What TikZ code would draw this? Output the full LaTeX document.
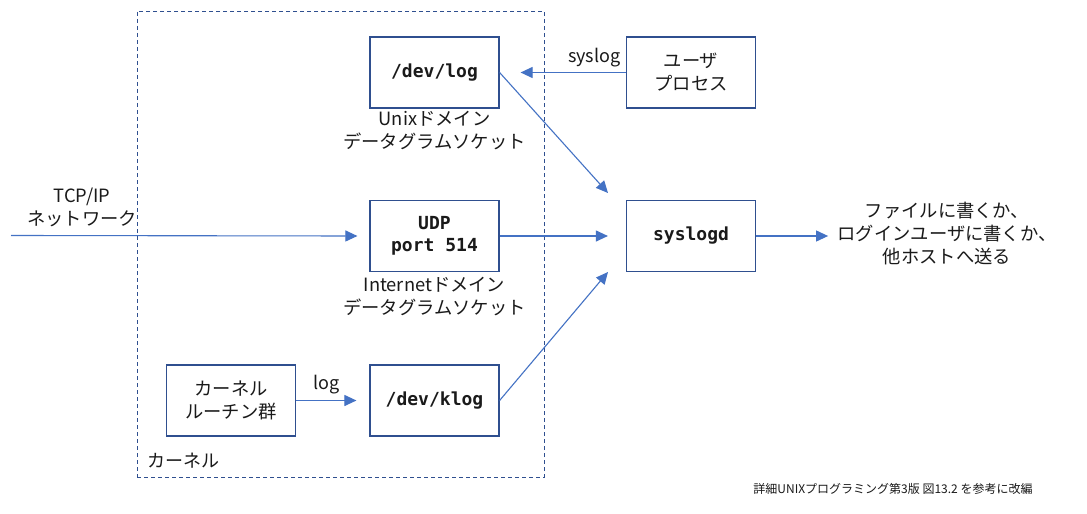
\documentclass[tikz,border=0pt]{standalone}
\usepackage{fontspec}
\setmainfont{Noto Sans CJK JP}
\setmonofont{DejaVu Sans Mono}
\usetikzlibrary{arrows.meta,calc}
\definecolor{boxc}{HTML}{2F4F8F}
\definecolor{arrc}{HTML}{4472C4}
\definecolor{dashc}{HTML}{2F4F8F}
\definecolor{txtc}{HTML}{1A1A1A}
\begin{document}
\begin{tikzpicture}[x=1pt,y=-1pt,
  box/.style={draw=boxc,line width=1.2pt,minimum width=129pt,minimum height=71pt,inner sep=0pt,align=center,text=txtc},
  mono/.style={font=\fontsize{18}{22}\selectfont\ttfamily\bfseries},
  jp/.style={font=\fontsize{18.3}{23}\selectfont,text=txtc,align=center,inner sep=0pt},
  arr/.style={draw=arrc,line width=1.1pt,-{Triangle[length=12pt,width=11pt]}},
  lbl/.style={font=\fontsize{18}{23}\selectfont,text=txtc,inner sep=0pt}]
\useasboundingbox[fill=white] (0,0) rectangle (1087,514);
\node[draw=dashc,dash pattern=on 4pt off 3pt,line width=1pt,minimum width=407pt,minimum height=466pt,inner sep=0pt] (kern) at (340.5,244) {};
\node[box,mono] (devlog) at (434.5,72.5) {/dev/log};
\node[box,mono] (udp) at (434.5,236) {UDP\\port 514};
\node[box,mono] (klog) at (434.5,400.5) {/dev/klog};
\node[box,jp] (kr) at (231,400.5) {カーネル\\ルーチン群};
\node[box,jp] (user) at (691,72.5) {ユーザ\\プロセス};
\node[box,mono] (syslogd) at (691,236) {syslogd};
\node[jp,anchor=north] (ulbl) at (434.5,111) {Unixドメイン\\データグラムソケット};
\node[jp,anchor=north] (ilbl) at (434.5,277) {Internetドメイン\\データグラムソケット};
\node[lbl] (klbl) at (183,461) {カーネル};
\node[jp] (net) at (82,207) {TCP/IP\\ネットワーク};
\node[jp] (out) at (947,234) {ファイルに書くか、\\ログインユーザに書くか、\\他ホストへ送る};
\node[font=\fontsize{12}{14}\selectfont,text=txtc,inner sep=0pt] (foot) at (893,489) {詳細UNIXプログラミング第3版 図13.2 を参考に改編};
\coordinate (netin) at (11,235.5);
\coordinate (t1) at (608,193);
\coordinate (t3) at (608,272);
\draw[arr] (netin) -- ($(udp.west)+(-12,0)$);
\draw[arr] (user.west) -- ($(devlog.east)+(21,0)$) node[pos=0.3,above=5pt,lbl] (sl) {syslog};
\draw[arr] (devlog.east) -- (t1);
\draw[arr] (udp.east) -- ($(syslogd.west)+(-18,0)$);
\draw[arr] (klog.east) -- (t3);
\draw[arr] (syslogd.east) -- ($(syslogd.east)+(72,0)$);
\draw[arr] (kr.east) -- ($(klog.west)+(-13,0)$) node[midway,above=6pt,lbl] (lg) {log};
\end{tikzpicture}
\end{document}
